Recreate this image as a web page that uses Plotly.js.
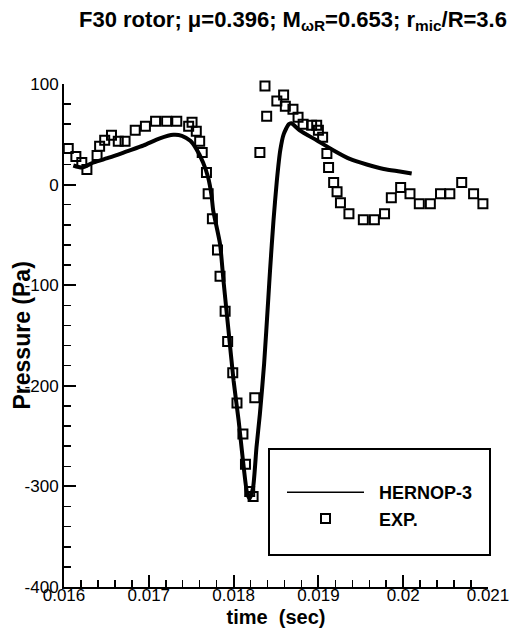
<!DOCTYPE html>
<html>
<head>
<meta charset="utf-8">
<script src="https://cdn.plot.ly/plotly-3.0.1.min.js"></script>
<style>
  html, body { margin: 0; padding: 0; background: #fff; }
  #chart { width: 518px; height: 644px; }
</style>
</head>
<body>
<div id="chart"></div>
<script>
// Measured acoustic pressure at the microphone (open squares)
const expTime = [
  0.01605, 0.01614, 0.01621, 0.01627, 0.01639, 0.01642, 0.01648, 0.01656, 0.01664, 0.01672,
  0.01684, 0.01696, 0.01708, 0.01721, 0.01733, 0.01747, 0.01751, 0.01756, 0.01760, 0.01763,
  0.01768, 0.01770, 0.01775, 0.01781, 0.01784, 0.01790, 0.01793, 0.01799, 0.01804, 0.01811,
  0.01814, 0.01819, 0.01823, 0.01825, 0.01831, 0.01837, 0.01839, 0.01851, 0.01859, 0.01861,
  0.01870, 0.01876, 0.01882, 0.01892, 0.01898, 0.01900, 0.01905, 0.01910, 0.01912, 0.01918,
  0.01922, 0.01926, 0.01936, 0.01953, 0.01966, 0.01978, 0.01986, 0.01997, 0.02008, 0.02019,
  0.02032, 0.02044, 0.02055, 0.02069, 0.02083, 0.02094
];
const expPressure = [
  36, 28, 22, 15, 29, 38, 44, 49, 43, 43,
  54, 58, 63, 63, 63, 58, 62, 53, 43, 32,
  12, -9, -34, -65, -91, -126, -156, -187, -217, -248,
  -278, -305, -310, -212, 32, 98, 68, 83, 89, 78,
  75, 67, 60, 59, 59, 54, 47, 31, 17, 2,
  -7, -18, -29, -35, -35, -29, -13, -3, -9, -19,
  -19, -9, -9, 2, -9, -19
];

// HERNOP-3 prediction (solid line)
const predTime = [
  0.01611, 0.01621, 0.01635, 0.01654, 0.01674, 0.01694, 0.01713, 0.01729, 0.01739, 0.01749,
  0.01756, 0.01764, 0.01770, 0.01774, 0.01776, 0.01784, 0.01788, 0.01794, 0.01800, 0.01806,
  0.01811, 0.01816, 0.01819, 0.01823, 0.01827, 0.01831, 0.01836, 0.01841, 0.01843, 0.01847,
  0.01851, 0.01855, 0.01859, 0.01865, 0.01868, 0.01878, 0.01898, 0.01918, 0.01937, 0.01957,
  0.01977, 0.01996, 0.02010
];
const predPressure = [
  19, 17, 22, 27, 33, 39, 46, 49.5, 48.5, 43.5,
  35.5, 22, 7, -11, -26, -59, -95, -145, -195, -235,
  -274, -307, -312, -301, -261, -228, -178, -112, -85, -36,
  4, 34, 50, 60, 61, 54, 44, 34, 25.5, 20,
  15.5, 13, 11
];

// Axis tick labels
const xTickVals = [0.016, 0.017, 0.018, 0.019, 0.020, 0.021];
const xTickText = ['0.016', '0.017', '0.018', '0.019', '0.02', '0.021'];
const yTickVals = [100, 0, -100, -200, -300, -400];
const yTickText = ['100', '0', '-100', '-200', '-300', '-400'];

const FONT = '"Liberation Sans", Arial, Helvetica, sans-serif';
const NB = '\u00a0\u00a0';

const traces = [
  {
    x: expTime, y: expPressure,
    type: 'scatter', mode: 'markers', name: NB + 'EXP.',
    legendrank: 2, cliponaxis: false,
    marker: { symbol: 'square-open', size: 9, color: '#000', line: { width: 2, color: '#000' } }
  },
  {
    x: predTime, y: predPressure,
    type: 'scatter', mode: 'lines', name: 'HERNOP-3',
    showlegend: false,
    line: { color: '#000', width: 4, shape: 'spline', smoothing: 0.6 }
  },
  {
    // legend key for the prediction (thin line sample)
    x: [null], y: [null],
    type: 'scatter', mode: 'lines', name: NB + 'HERNOP-3',
    legendrank: 1,
    line: { color: '#000', width: 1.5 }
  }
];

const axisCommon = {
  showline: true, linecolor: '#000', linewidth: 2,
  showgrid: false, zeroline: false, mirror: false,
  ticks: 'inside', ticklen: 12, tickwidth: 2, tickcolor: '#000',
  tickfont: { family: FONT, size: 17, color: '#000' },
  tickmode: 'array'
};

const layout = {
  width: 518, height: 644,
  margin: { l: 64, r: 30, t: 84, b: 57 },
  paper_bgcolor: '#fff', plot_bgcolor: '#fff',
  showlegend: true,
  font: { family: FONT, color: '#000' },
  title: {
    text: 'F30 rotor; \u03bc=0.396; M<sub>\u03c9R</sub>=0.653; r<sub>mic</sub>/R=3.6',
    x: 293 / 518, xanchor: 'center',
    y: 1 - 19 / 644, yanchor: 'middle',
    font: { family: FONT, size: 22, color: '#000', weight: 'bold' }
  },
  xaxis: Object.assign({}, axisCommon, {
    range: [0.016, 0.021],
    tickvals: xTickVals, ticktext: xTickText,
    ticklabelstandoff: -8,
    minor: { dtick: 0.0002, tick0: 0.016, ticks: 'inside', ticklen: 7, tickwidth: 1.5, tickcolor: '#000' },
    title: { text: 'time\u00a0 (sec)', standoff: 6, font: { family: FONT, size: 20, color: '#000', weight: 'bold' } }
  }),
  yaxis: Object.assign({}, axisCommon, {
    range: [-400, 100],
    tickvals: yTickVals, ticktext: yTickText,
    minor: { dtick: 20, tick0: 0, ticks: 'inside', ticklen: 7, tickwidth: 1.5, tickcolor: '#000' }
  }),
  annotations: [
    {
      text: 'Pressure (Pa)', textangle: -90,
      xref: 'paper', yref: 'paper',
      x: (21 - 64) / 424, y: 0.5, xanchor: 'center', yanchor: 'middle',
      showarrow: false,
      font: { family: FONT, size: 23, color: '#000', weight: 'bold' }
    }
  ],
  legend: {
    x: (282 - 64) / 424, xanchor: 'left',
    y: (587 - 474) / 503, yanchor: 'top',
    bgcolor: 'rgba(0,0,0,0)', borderwidth: 0,
    itemwidth: 77,
    font: { family: FONT, size: 18, color: '#000', weight: 'bold' }
  },
  shapes: [
    {
      type: 'rect', xref: 'paper', yref: 'paper',
      x0: (269 - 64) / 424, x1: (490 - 64) / 424,
      y0: (587 - 555) / 503, y1: (587 - 449) / 503,
      line: { color: '#000', width: 2 }, fillcolor: 'rgba(0,0,0,0)'
    }
  ]
};

Plotly.newPlot('chart', traces, layout, { displayModeBar: false, staticPlot: true });
</script>
</body>
</html>
